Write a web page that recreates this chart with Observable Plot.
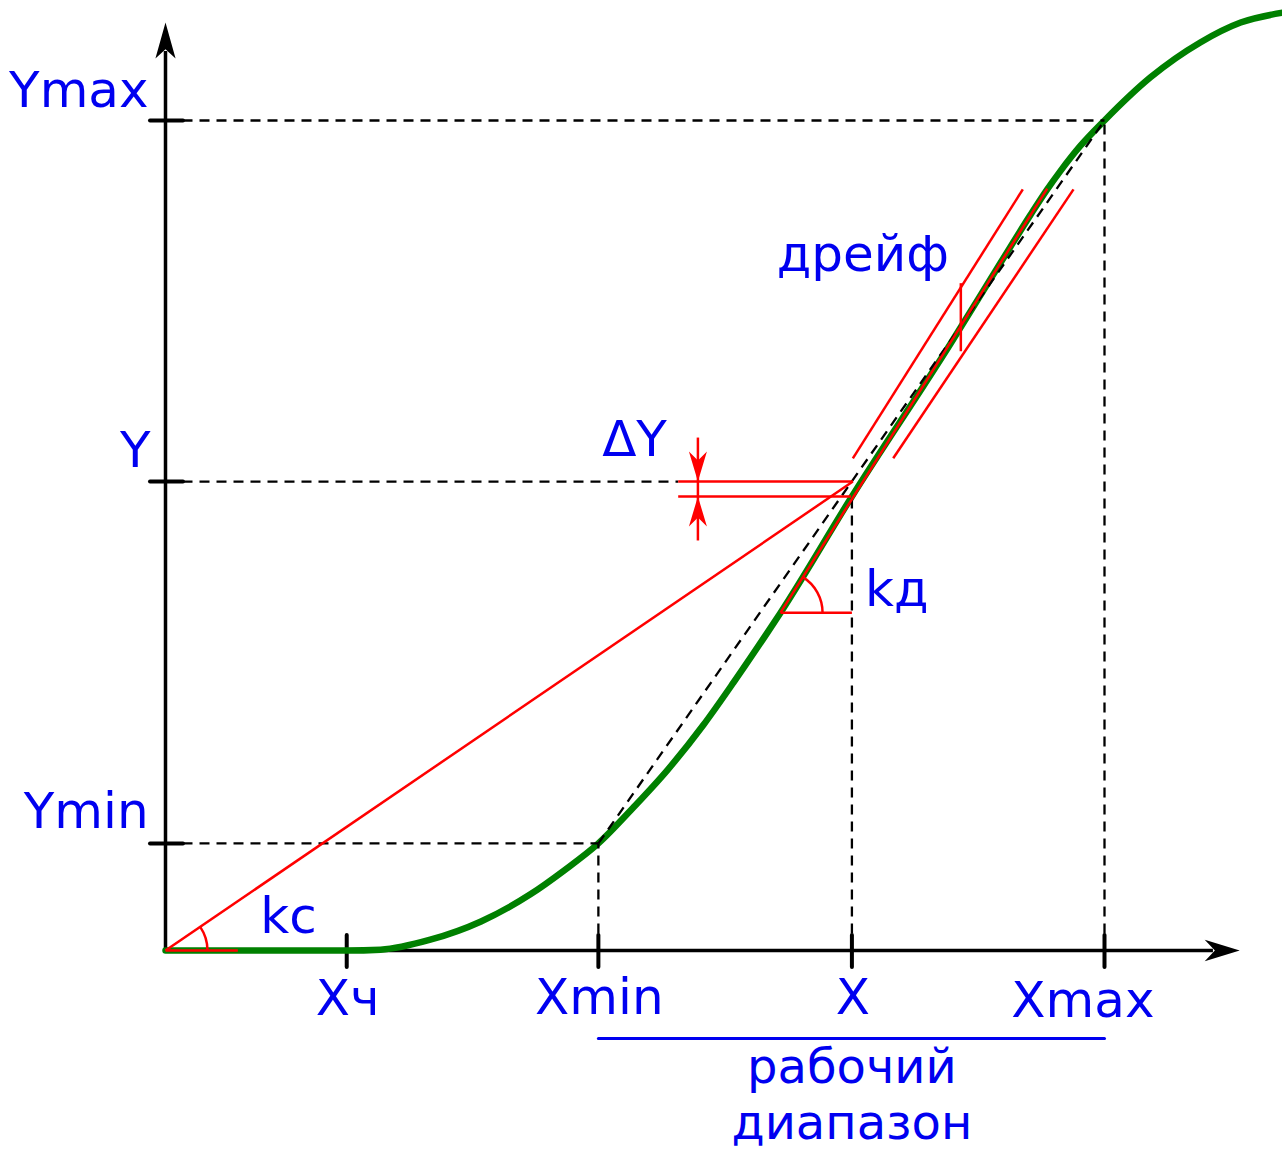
<!DOCTYPE html>
<html><head><meta charset="utf-8">
<script src="https://cdn.jsdelivr.net/npm/d3@7"></script>
<script src="https://cdn.jsdelivr.net/npm/@observablehq/plot@0.6"></script>
<style>body{margin:0;background:#fff} svg{display:block}</style>
</head><body><div id="chart"></div>
<script>
// Units: Xmax = 10, Ymax = 10
const xLevels = [1.93, 4.61, 7.31, 10];
const xLabels = ["Xч", "Xmin", "X", "Xmax"];
const yLevels = [1.29, 5.65, 10];
const yLabels = ["Ymin", "Y", "Ymax"];
const yAtX = 5.47;          // characteristic value at X
const axisEndX = 11.44, axisEndY = 11.18;

// characteristic curve
const curveX = [0, 0.9, 1.44, 1.93, 2.29, 2.82, 3.36, 3.89, 4.24, 4.61, 4.98, 5.35, 5.73, 6.05, 6.41, 6.55, 7.31, 8.36, 8.89, 9.21, 9.39, 9.53, 9.74, 10, 10.49, 11.02, 11.45, 11.9];
const curveY = [0, 0, 0, 0, 0.01, 0.13, 0.35, 0.68, 0.96, 1.29, 1.72, 2.18, 2.72, 3.23, 3.83, 4.07, 5.47, 7.31, 8.28, 8.86, 9.17, 9.39, 9.69, 10, 10.52, 10.94, 11.18, 11.30];

// tangent (dynamic sensitivity) and drift band
const tangentX = [6.55, 9.39], tangentY = [4.07, 9.18];
const driftUpperX = [7.32, 9.13], driftUpperY = [5.93, 9.17];
const driftLowerX = [7.75, 9.67], driftLowerY = [5.93, 9.17];
const driftMarkX = 8.47, driftMarkY = [8.04, 7.22];
// static sensitivity line
const staticX = [0, 7.32], staticY = [0, 5.65];
// ΔY marker
const dyLineStart = 5.46, dyArrowX = 5.67, dyArrowY = [4.94, 6.18];
// angle markers
const kdCenter = [6.55, 4.07], kdAngle = 57.8;
const kcCenter = [0, 0], kcAngle = 34.3, kcLineEnd = 0.77;
// working range underline
const rangeLineY = -1.06;

// Labels
const yLabelX = [-0.18, -0.16, -0.18];
const yLabelY = [1.47, 5.82, 10.16];
const xLabelX = [1.94, 4.62, 7.32, 9.77];
const xLabelY = [-0.78, -0.77, -0.76, -0.80];
const rangeText = ["рабочий", "диапазон"];
const rangeTextX = 7.31, rangeTextY = -2.27;
const noteText = ["kс", "kд", "ΔY", "дрейф"];
const noteX = [1.01, 7.45, 4.65, 6.51];
const noteY = [0.205, 4.145, 5.96, 8.19];

// ---------- build tables ----------
const curve = curveX.map((x, i) => ({x, y: curveY[i]}));
const dashed = [
  {x1: 0, y1: yLevels[2], x2: xLevels[3], y2: yLevels[2]},
  {x1: xLevels[3], y1: 0, x2: xLevels[3], y2: yLevels[2]},
  {x1: 0, y1: yLevels[1], x2: dyLineStart, y2: yLevels[1]},
  {x1: xLevels[2], y1: 0, x2: xLevels[2], y2: yAtX},
  {x1: 0, y1: yLevels[0], x2: xLevels[1], y2: yLevels[0]},
  {x1: xLevels[1], y1: 0, x2: xLevels[1], y2: yLevels[0]},
  {x1: xLevels[1], y1: yLevels[0], x2: xLevels[3], y2: yLevels[2]}
];
const red = [
  {x1: tangentX[0], y1: tangentY[0], x2: tangentX[1], y2: tangentY[1]},
  {x1: driftUpperX[0], y1: driftUpperY[0], x2: driftUpperX[1], y2: driftUpperY[1]},
  {x1: driftLowerX[0], y1: driftLowerY[0], x2: driftLowerX[1], y2: driftLowerY[1]},
  {x1: driftMarkX, y1: driftMarkY[0], x2: driftMarkX, y2: driftMarkY[1]},
  {x1: staticX[0], y1: staticY[0], x2: staticX[1], y2: staticY[1]},
  {x1: dyLineStart, y1: yLevels[1], x2: staticX[1], y2: yLevels[1]},
  {x1: dyLineStart, y1: yAtX, x2: xLevels[2] - 0.01, y2: yAtX},
  {x1: dyArrowX, y1: dyArrowY[0], x2: dyArrowX, y2: dyArrowY[1]},
  {x1: kdCenter[0], y1: kdCenter[1], x2: xLevels[2], y2: kdCenter[1]},
  {x1: kcCenter[0], y1: kcCenter[1], x2: kcLineEnd, y2: kcCenter[1]}
];

// symbols
function arrowHead(w, notch) {
  return {draw(ctx, size) {
    const k = Math.sqrt(size / Math.PI);
    ctx.moveTo(0, 0); ctx.lineTo(-w * k, k); ctx.lineTo(0, notch * k); ctx.lineTo(w * k, k); ctx.closePath();
  }};
}
function arcMark(deg) {
  return {draw(ctx, size) {
    const r = Math.sqrt(size / Math.PI);
    ctx.moveTo(r, 0); ctx.arc(0, 0, r, 0, -deg * Math.PI / 180, true);
  }};
}

const font = "DejaVu Sans, Verdana, sans-serif";
const blue = "#0000f0";
const redC = "#f00";
const txt = (texts, xs, ys) => texts.map((t, i) => ({t, x: xs[i], y: ys[i]}));

const chart = Plot.plot({
  width: 1282, height: 1149, margin: 0,
  x: {domain: [0, 10], range: [165, 1104], axis: null},
  y: {domain: [0, 10], range: [950, 120], axis: null},
  style: {background: "#fff", overflow: "visible"},
  marks: [
    // axes
    Plot.ruleX([0], {y1: 0, y2: axisEndY - 0.35, stroke: "black", strokeWidth: 3.5}),
    Plot.ruleY([0], {x1: 0, x2: axisEndX - 0.28, stroke: "black", strokeWidth: 3.5}),
    Plot.dot([{x: 0, y: axisEndY}], {x: "x", y: "y", symbol: arrowHead(0.28, 0.74), r: 36, fill: "black", stroke: "none"}),
    Plot.dot([{x: axisEndX, y: 0}], {x: "x", y: "y", symbol: arrowHead(0.31, 0.71), r: 35, rotate: 90, fill: "black", stroke: "none"}),
    // ticks
    Plot.ruleX(xLevels, {y1: 0, y2: 0, insetTop: -15, insetBottom: -17, stroke: "black", strokeWidth: 4, strokeLinecap: "round"}),
    Plot.ruleY(yLevels, {x1: 0, x2: 0, insetLeft: -15, insetRight: -18, stroke: "black", strokeWidth: 4, strokeLinecap: "round"}),
    // characteristic
    Plot.line(curve, {x: "x", y: "y", curve: "monotone-x", stroke: "#008000", strokeWidth: 6.5, strokeLinecap: "round"}),
    // dashed guides
    Plot.link(dashed, {x1: "x1", y1: "y1", x2: "x2", y2: "y2", stroke: "black", strokeWidth: 2.3, strokeDasharray: "10,7"}),
    // red constructions
    Plot.link(red, {x1: "x1", y1: "y1", x2: "x2", y2: "y2", stroke: redC, strokeWidth: 2.5}),
    Plot.dot([{x: kdCenter[0], y: kdCenter[1]}], {x: "x", y: "y", symbol: arcMark(kdAngle), r: 42, fill: "none", stroke: redC, strokeWidth: 2.5}),
    Plot.dot([{x: kcCenter[0], y: kcCenter[1]}], {x: "x", y: "y", symbol: arcMark(kcAngle), r: 42, fill: "none", stroke: redC, strokeWidth: 2.5}),
    Plot.dot([{x: dyArrowX, y: yLevels[1]}], {x: "x", y: "y", symbol: arrowHead(0.3, 0.7), r: 30, rotate: 180, fill: redC, stroke: "none"}),
    Plot.dot([{x: dyArrowX, y: yAtX}], {x: "x", y: "y", symbol: arrowHead(0.3, 0.7), r: 30, fill: redC, stroke: "none"}),
    // working range underline
    Plot.link([{x1: xLevels[1], x2: xLevels[3], y: rangeLineY}], {x1: "x1", x2: "x2", y1: "y", y2: "y", stroke: blue, strokeWidth: 3, strokeLinecap: "round"}),
    // labels
    Plot.text(txt(yLabels, yLabelX, yLabelY), {x: "x", y: "y", text: "t", textAnchor: "end", lineAnchor: "bottom", fontSize: 50, fontFamily: font, fill: blue}),
    Plot.text(txt(xLabels, xLabelX, xLabelY), {x: "x", y: "y", text: "t", textAnchor: "middle", lineAnchor: "bottom", fontSize: 50, fontFamily: font, fill: blue}),
    Plot.text([{t: rangeText.join("\n"), x: rangeTextX, y: rangeTextY}], {x: "x", y: "y", text: "t", textAnchor: "middle", lineAnchor: "bottom", lineHeight: 1.17, fontSize: 48, fontFamily: font, fill: blue}),
    Plot.text(txt(noteText, noteX, noteY), {x: "x", y: "y", text: "t", textAnchor: "start", lineAnchor: "bottom", fontSize: 50, fontFamily: font, fill: blue})
  ]
});
document.getElementById("chart").appendChild(chart);
</script>
</body></html>
